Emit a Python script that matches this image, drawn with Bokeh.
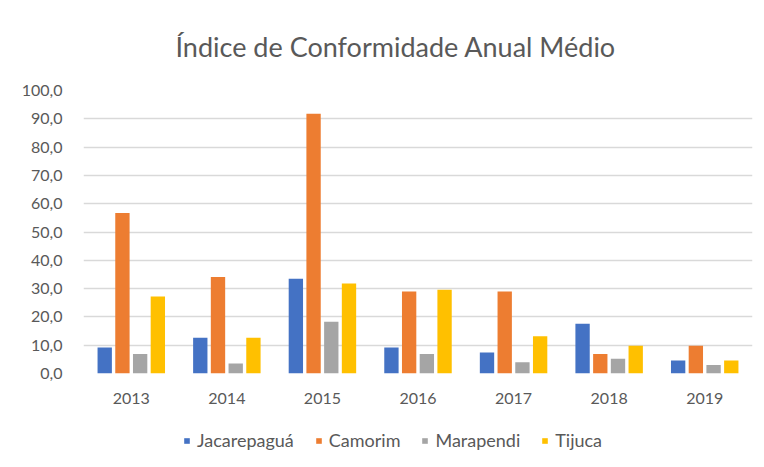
from bokeh.plotting import figure
from bokeh.layouts import column
from bokeh.models import ColumnDataSource, FixedTicker, Legend, LegendItem, Title
from bokeh.transform import dodge
from bokeh.embed import file_html
from bokeh.resources import INLINE

years = ["2013", "2014", "2015", "2016", "2017", "2018", "2019"]
jacarepagua = [9.2, 12.6, 33.5, 9.2, 7.4, 17.6, 4.6]
camorim = [56.7, 34.1, 91.8, 29.0, 29.0, 6.9, 9.8]
marapendi = [6.9, 3.5, 18.3, 6.9, 4.0, 5.2, 3.0]
tijuca = [27.2, 12.6, 31.8, 29.6, 13.2, 9.8, 4.6]
series_names = ["Jacarepaguá", "Camorim", "Marapendi", "Tijuca"]
y_ticks = [0, 10, 20, 30, 40, 50, 60, 70, 80, 90, 100]
y_tick_labels = ["0,0", "10,0", "20,0", "30,0", "40,0", "50,0", "60,0", "70,0", "80,0", "90,0", "100,0"]
title_text = "Índice de Conformidade Anual Médio"

colors = ["#4472C4", "#ED7D31", "#A5A5A5", "#FFC000"]
offsets = [-0.278, -0.0927, 0.0927, 0.278]
FONT = "Lato"
GRAY = "#595959"

source = ColumnDataSource(dict(years=years, s0=jacarepagua, s1=camorim, s2=marapendi, s3=tijuca))

p = figure(x_range=years, y_range=(0, 100), width=764, height=420,
           output_backend="svg", toolbar_location=None,
           min_border_left=83, min_border_right=12, min_border_top=90, min_border_bottom=47)

for i in range(4):
    p.vbar(x=dodge("years", offsets[i], range=p.x_range), top="s%d" % i, width=0.15,
           source=source, fill_color=colors[i], line_color=None)

p.add_layout(Title(text=title_text, text_font=FONT, text_font_size="27px",
                   text_color=GRAY, text_font_style="normal", align="left",
                   offset=92, standoff=55), "above")

p.yaxis.ticker = FixedTicker(ticks=y_ticks)
p.yaxis.major_label_overrides = {t: l for t, l in zip(y_ticks, y_tick_labels)}
for ax in (p.xaxis, p.yaxis):
    ax.axis_line_color = None
    ax.major_tick_line_color = None
    ax.minor_tick_line_color = None
    ax.major_label_text_font = FONT
    ax.major_label_text_font_size = "16px"
    ax.major_label_text_color = GRAY
p.yaxis.major_label_standoff = 15
p.xaxis.major_label_standoff = 13

p.xgrid.grid_line_color = None
p.ygrid.grid_line_color = "#d9d9d9"
p.ygrid.grid_line_width = 1.5
p.outline_line_color = None

# legend strip below the chart (proxy renderers lie outside the strip's visible range)
p2 = figure(x_range=(0, 1), y_range=(0, 1), width=764, height=47,
            output_backend="svg", toolbar_location=None,
            min_border_left=0, min_border_right=0, min_border_top=0, min_border_bottom=0)
p2.axis.visible = False
p2.grid.grid_line_color = None
p2.outline_line_color = None
proxy = ColumnDataSource(dict(x=[-10], top=[-10]))
leg_renderers = [p2.vbar(x="x", top="top", width=0.1, source=proxy,
                         fill_color=colors[i], line_color=None) for i in range(4)]
legend = Legend(items=[LegendItem(label=series_names[i], renderers=[leg_renderers[i]]) for i in range(4)],
                orientation="horizontal", label_text_font=FONT, label_text_font_size="18px",
                label_text_color=GRAY, glyph_width=7, glyph_height=7, label_standoff=7,
                spacing=21, border_line_color=None, padding=0, margin=0,
                background_fill_alpha=0, location=(100, 16))
p2.add_layout(legend, "center")

open("out.html", "w").write(file_html(column(p, p2, spacing=0), INLINE))
